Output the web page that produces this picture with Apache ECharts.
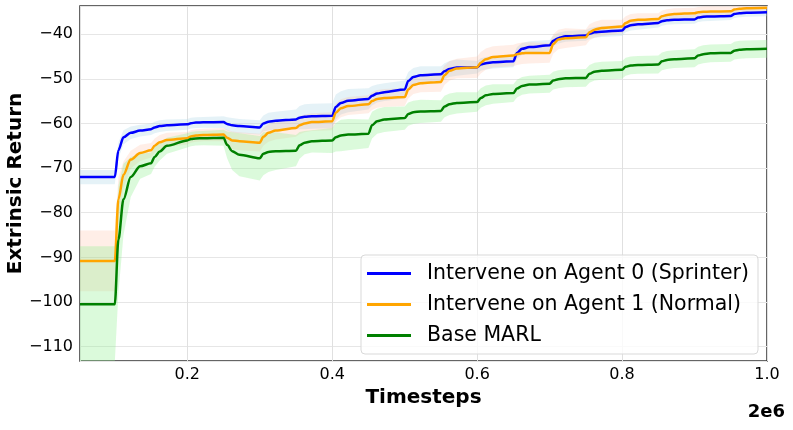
<!DOCTYPE html>
<html>
<head>
<meta charset="utf-8">
<script src="https://cdn.jsdelivr.net/npm/echarts@6/dist/echarts.min.js"></script>
<style>
html,body{margin:0;padding:0;background:#fff;}
#chart{width:793px;height:430px;}
</style>
</head>
<body>
<div id="chart"></div>
<script>
// Timesteps (units of 2e6)
const xs = [0.052,
  0.100,0.105,0.112,0.122,0.135,
  0.150,0.155,0.162,0.172,
  0.200,0.205,0.212,0.222,
  0.250,0.255,0.262,0.272,
  0.300,0.305,0.312,0.322,
  0.350,0.355,0.362,0.372,
  0.400,0.405,0.412,0.422,
  0.450,0.455,0.462,0.472,
  0.500,0.505,0.512,0.522,
  0.550,0.555,0.562,0.572,
  0.600,0.605,0.612,0.622,
  0.650,0.655,0.662,0.672,
  0.700,0.705,0.712,0.722,
  0.750,0.755,0.762,0.772,
  0.800,0.805,0.812,0.822,
  0.850,0.855,0.862,0.872,
  0.900,0.905,0.912,0.922,
  0.950,0.955,0.962,0.972,
  1.000];

const seriesNames = ['Intervene on Agent 0 (Sprinter)', 'Intervene on Agent 1 (Normal)', 'Base MARL'];

const sprinterMean = [-72.0,
  -72.0,-66.0,-63.1,-62.1,-61.6,
  -61.3,-60.9,-60.6,-60.4,
  -60.2,-59.95,-59.8,-59.75,
  -59.7,-60.1,-60.4,-60.6,
  -60.9,-60.0,-59.6,-59.4,
  -59.1,-58.7,-58.5,-58.4,
  -58.3,-56.3,-55.4,-54.9,
  -54.5,-53.8,-53.3,-53.0,
  -52.4,-50.5,-49.6,-49.2,
  -49.0,-48.3,-47.8,-47.5,
  -47.4,-46.8,-46.5,-46.3,
  -46.1,-44.2,-43.3,-42.9,
  -42.5,-41.5,-40.9,-40.5,
  -40.3,-39.9,-39.6,-39.45,
  -39.2,-38.4,-38.0,-37.8,
  -37.5,-37.1,-36.9,-36.8,
  -36.7,-36.3,-36.1,-36.05,
  -35.95,-35.5,-35.3,-35.2,
  -35.1];
const sprinterStd = [1.6,
  1.6,1.8,1.6,1.4,1.3,
  1.3,1.3,1.3,1.3,
  1.2,1.2,1.2,1.2,
  1.3,1.5,1.6,1.6,
  1.6,1.8,2.0,2.0,
  2.2,2.6,2.8,2.8,
  2.8,2.8,2.6,2.6,
  2.4,2.2,2.0,2.0,
  2.0,2.0,2.0,2.0,
  1.8,1.8,1.8,1.8,
  1.4,1.4,1.4,1.4,
  1.3,1.3,1.3,1.3,
  1.2,1.2,1.2,1.2,
  1.2,1.2,1.2,1.2,
  1.2,1.2,1.2,1.2,
  1.0,1.0,1.0,1.0,
  1.0,1.0,1.0,1.0,
  0.9,0.9,0.9,0.9,
  0.9];

const normalMean = [-90.8,
  -90.8,-77.0,-71.5,-68.1,-66.6,
  -66.0,-65.0,-64.2,-63.7,
  -63.3,-62.9,-62.7,-62.6,
  -62.5,-63.2,-63.8,-64.0,
  -64.3,-63.0,-62.1,-61.6,
  -61.0,-60.4,-60.0,-59.7,
  -59.5,-57.6,-56.6,-56.1,
  -55.7,-55.0,-54.5,-54.3,
  -54.1,-52.4,-51.4,-51.0,
  -50.7,-49.2,-48.2,-47.7,
  -47.4,-46.4,-45.6,-45.1,
  -44.8,-44.5,-44.3,-44.2,
  -44.2,-42.2,-41.2,-40.9,
  -40.7,-39.6,-39.0,-38.6,
  -38.3,-37.5,-37.0,-36.8,
  -36.6,-36.0,-35.7,-35.5,
  -35.3,-35.1,-35.0,-34.95,
  -34.9,-34.5,-34.3,-34.2,
  -34.1];
const normalStd = [6.8,
  6.8,5.0,3.0,2.0,1.8,
  1.6,1.6,1.6,1.6,
  1.4,1.4,1.4,1.4,
  1.5,1.8,2.0,2.0,
  2.0,2.0,2.0,2.0,
  2.0,2.0,2.0,2.0,
  2.0,2.0,2.0,2.0,
  2.0,2.0,2.0,2.0,
  2.0,2.0,2.0,2.0,
  2.2,2.2,2.2,2.2,
  2.4,2.4,2.4,2.4,
  2.4,2.4,2.4,2.4,
  2.2,2.2,2.2,2.2,
  1.8,1.8,1.8,1.8,
  1.5,1.5,1.5,1.5,
  1.3,1.3,1.3,1.3,
  1.2,1.2,1.2,1.2,
  1.1,1.1,1.1,1.1,
  1.1];

const baseMean = [-100.5,
  -100.5,-86.0,-77.0,-72.0,-69.6,
  -68.9,-67.5,-66.3,-65.0,
  -63.8,-63.5,-63.35,-63.3,
  -63.2,-64.8,-66.2,-67.0,
  -67.8,-66.8,-66.4,-66.2,
  -66.1,-64.9,-64.3,-64.0,
  -63.8,-63.1,-62.7,-62.5,
  -62.3,-60.4,-59.5,-59.1,
  -58.8,-57.9,-57.5,-57.3,
  -57.2,-56.2,-55.7,-55.4,
  -55.2,-54.3,-53.7,-53.4,
  -53.2,-52.2,-51.6,-51.3,
  -51.1,-50.4,-50.1,-49.9,
  -49.8,-48.9,-48.4,-48.2,
  -48.0,-47.3,-47.0,-46.9,
  -46.8,-46.1,-45.8,-45.6,
  -45.4,-44.8,-44.5,-44.3,
  -44.2,-43.7,-43.5,-43.4,
  -43.3];
const baseStd = [13.0,
  13.0,12.0,8.0,4.5,2.8,
  2.4,2.2,2.0,1.8,
  1.6,1.6,1.6,1.6,
  1.8,3.0,4.2,4.8,
  5.0,4.8,4.5,4.2,
  3.5,3.0,2.6,2.5,
  2.8,3.2,3.5,3.5,
  3.2,3.0,2.8,2.8,
  2.6,2.6,2.6,2.6,
  2.4,2.4,2.4,2.4,
  2.2,2.2,2.2,2.2,
  2.0,2.0,2.0,2.0,
  2.0,2.0,2.0,2.0,
  2.0,2.0,2.0,2.0,
  2.0,2.0,2.0,2.0,
  2.0,2.0,2.0,2.0,
  2.0,2.0,2.0,2.0,
  2.0,2.0,2.0,2.0,
  2.0];

const lineColors = ['#0000ff', '#ffa500', '#008000'];
const bandColors = ['rgba(173,216,230,0.32)', 'rgba(255,160,122,0.18)', 'rgba(144,238,144,0.32)'];
const means = [sprinterMean, normalMean, baseMean];
const stds = [sprinterStd, normalStd, baseStd];

const FONT = 'DejaVu Sans';

function bandSeries(k) {
  const m = means[k], s = stds[k];
  const data = xs.map((x, i) => [x, m[i] - s[i], m[i] + s[i]]);
  return {
    type: 'custom',
    name: 'band' + k,
    silent: true,
    z: 1,
    clip: true,
    data: data,
    encode: {x: 0, y: [1, 2]},
    renderItem: function (params, api) {
      if (params.dataIndex !== 0) return null;
      const upper = data.map(d => api.coord([d[0], d[2]]));
      const lower = data.map(d => api.coord([d[0], d[1]])).reverse();
      const cs = params.coordSys;
      return {
        type: 'polygon',
        shape: {points: upper.concat(lower)},
        style: {fill: bandColors[k], stroke: null},
        clipPath: {type: 'rect', shape: {x: cs.x, y: cs.y, width: cs.width, height: cs.height}}
      };
    }
  };
}

function lineSeries(k) {
  return {
    type: 'line',
    name: seriesNames[k],
    data: xs.map((x, i) => [x, means[k][i]]),
    showSymbol: false,
    symbol: 'none',
    smooth: 0.3,
    smoothMonotone: 'x',
    z: 5,
    lineStyle: {color: lineColors[k], width: 2.5},
    itemStyle: {color: lineColors[k]}
  };
}

const chart = echarts.init(document.getElementById('chart'), null, {renderer: 'canvas'});
chart.setOption({
  animation: false,
  backgroundColor: '#ffffff',
  textStyle: {fontFamily: FONT},
  grid: {left: 80, right: 26, top: 6, bottom: 69, show: true, borderColor: '#333333', borderWidth: 1.5, backgroundColor: 'transparent', containLabel: false, outerBoundsMode: 'none'},
  xAxis: {
    type: 'value',
    min: 0.052, max: 1.0,
    splitNumber: 5,
    name: 'Timesteps',
    nameLocation: 'middle',
    nameGap: 24,
    nameTextStyle: {fontFamily: FONT, fontSize: 20, fontWeight: 'bold', color: '#000'},
    axisLine: {show: false},
    axisTick: {show: false},
    axisLabel: {show: true, showMinLabel: false, showMaxLabel: true, margin: 6, fontFamily: FONT, fontSize: 16, color: '#000',
      formatter: v => v.toFixed(1)},
    splitLine: {show: true, lineStyle: {color: '#e0e0e0', width: 1}}
  },
  yAxis: {
    type: 'value',
    min: -113.2, max: -33.7,
    splitNumber: 8,
    name: 'Extrinsic Return',
    nameLocation: 'middle',
    nameRotate: 90,
    nameGap: 54,
    nameMoveOverlap: false,
    nameTextStyle: {fontFamily: FONT, fontSize: 20, fontWeight: 'bold', color: '#000'},
    axisLine: {show: false},
    axisTick: {show: false},
    axisLabel: {show: true, showMinLabel: false, showMaxLabel: false, margin: 7, fontFamily: FONT, fontSize: 16, color: '#000',
      formatter: v => (Math.abs(v % 10) < 1e-6 ? String(Math.round(v)).replace('-', '\u2212') : '')},
    splitLine: {show: true, lineStyle: {color: '#e6e6e6', width: 1.2}}
  },
  legend: {
    orient: 'vertical',
    left: 361, top: 255,
    data: seriesNames.map((n, k) => ({name: n, icon: 'rect', itemStyle: {color: lineColors[k]}})),
    itemWidth: 44, itemHeight: 3,
    itemGap: 10,
    padding: [8, 9, 8, 6],
    backgroundColor: 'rgba(255,255,255,0.8)',
    borderColor: '#d9d9d9', borderWidth: 1, borderRadius: 4,
    textStyle: {fontFamily: FONT, fontSize: 20.5, color: '#000', padding: [0, 0, 0, 11]},
    selectedMode: false,
    z: 20
  },
  graphic: [{
    type: 'text', right: 8, top: 403, z: 20,
    style: {text: '2e6', font: 'bold 18px "DejaVu Sans"', fill: '#000'}
  }],
  series: [bandSeries(0), lineSeries(0), bandSeries(1), lineSeries(1), bandSeries(2), lineSeries(2)]
});
</script>
</body>
</html>
